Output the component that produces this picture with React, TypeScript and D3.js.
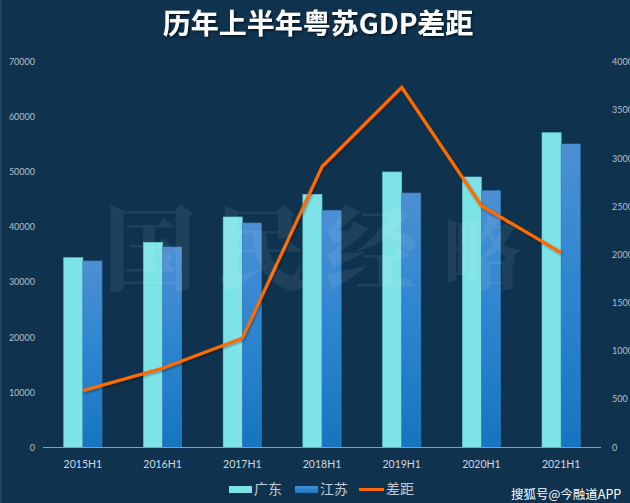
import React from "react";
import * as d3 from "d3";

const categories = ["2015H1", "2016H1", "2017H1", "2018H1", "2019H1", "2020H1", "2021H1"];
const guangdong = [34470, 37260, 41860, 45980, 50030, 49120, 57160];
const jiangsu = [33870, 36410, 40770, 43070, 46210, 46630, 55110];
const gap = [590, 822, 1133, 2913, 3737, 2509, 2021];
const leftTicks = [0, 10000, 20000, 30000, 40000, 50000, 60000, 70000];
const rightTicks = [0, 500, 1000, 1500, 2000, 2500, 3000, 3500, 4000];
const seriesNames = ["广东", "江苏", "差距"];
const watermarkChars = ["国", "民", "经", "略"];

const W = 630;
const H = 503;
const plotLeft = 43;
const plotRight = 601;
const plotTop = 62;
const plotBottom = 447.5;

const BG = "#0f334f";
const GD_COLOR = "#7ee3e6";
const LINE_COLOR = "#ff6a00";
const TICK_COLOR = "#b4bfca";
const latin = "Lato, 'Open Sans', sans-serif";
const cjk = "'Noto Sans CJK SC', 'Noto Sans', sans-serif";

export default function App() {
  const x = d3
    .scaleBand<string>()
    .domain(categories)
    .range([plotLeft, plotRight])
    .paddingInner(0.52)
    .paddingOuter(0.26);
  const inner = d3.scaleBand<string>().domain(["gd", "js"]).range([0, x.bandwidth()]);
  const yL = d3.scaleLinear().domain([0, 70000]).range([plotBottom, plotTop]);
  const yR = d3.scaleLinear().domain([0, 4000]).range([plotBottom, plotTop]);
  const cx = (c: string) => (x(c) as number) + x.bandwidth() / 2;

  const linePath = d3
    .line<number>()
    .x((_, i) => cx(categories[i]))
    .y((d) => yR(d))(gap) as string;

  const wmX = d3.scaleLinear().domain([0, 3]).range([150, 482]);

  return (
    <div style={{ position: "fixed", left: 0, top: 0, width: W, height: H }}>
      <svg width={W} height={H} style={{ display: "block" }}>
        <defs>
          <linearGradient id="jsGrad" x1="0" y1="0" x2="0" y2="1">
            <stop offset="0%" stopColor="#4e8fd3" />
            <stop offset="45%" stopColor="#2f86d0" />
            <stop offset="100%" stopColor="#1675c0" />
          </linearGradient>
          <filter id="tshadow" x="-10%" y="-30%" width="120%" height="160%">
            <feDropShadow dx="1.5" dy="1.5" stdDeviation="1" floodColor="#000" floodOpacity="0.6" />
          </filter>
          <filter id="lshadow" x="-10%" y="-10%" width="120%" height="120%">
            <feDropShadow dx="1" dy="1.5" stdDeviation="1" floodColor="#000" floodOpacity="0.35" />
          </filter>
        </defs>
        <rect x={0} y={0} width={W} height={H} fill={BG} />
        <rect x={0} y={0} width={2} height={H} fill="#1c4663" />

        {/* title */}
        <text
          x={318}
          y={34}
          textAnchor="middle"
          fill="#ffffff"
          fontFamily={cjk}
          fontWeight={700}
          fontSize={28}
          filter="url(#tshadow)"
        >
          历年上半年粤苏GDP差距
        </text>

        {/* left axis labels */}
        {leftTicks.map((t) => (
          <text
            key={"l" + t}
            x={35}
            y={yL(t)}
            dy="0.35em"
            textAnchor="end"
            fill={TICK_COLOR}
            fontFamily={latin}
            fontSize={9}
          >
            {t}
          </text>
        ))}
        {/* right axis labels */}
        {rightTicks.map((t) => (
          <text
            key={"r" + t}
            x={612}
            y={yR(t)}
            dy="0.35em"
            textAnchor="start"
            fill={TICK_COLOR}
            fontFamily={latin}
            fontSize={9}
          >
            {t}
          </text>
        ))}

        {/* bars */}
        {categories.map((c, i) => {
          const x0 = x(c) as number;
          return (
            <g key={c}>
              <rect
                x={x0 + (inner("gd") as number)}
                y={yL(guangdong[i])}
                width={inner.bandwidth()}
                height={plotBottom - yL(guangdong[i])}
                fill={GD_COLOR}
                stroke="#6cc8d0"
                strokeWidth={0.6}
              />
              <rect
                x={x0 + (inner("js") as number)}
                y={yL(jiangsu[i])}
                width={inner.bandwidth()}
                height={plotBottom - yL(jiangsu[i])}
                fill="url(#jsGrad)"
                stroke="#3b7fc0"
                strokeWidth={0.6}
              />
            </g>
          );
        })}

        {/* baseline */}
        <line x1={plotLeft} x2={plotRight} y1={plotBottom} y2={plotBottom} stroke="#8b9cad" strokeWidth={1.2} />

        {/* x labels */}
        {categories.map((c) => (
          <text
            key={"x" + c}
            x={cx(c)}
            y={468}
            textAnchor="middle"
            fill="#d0d8e0"
            fontFamily={latin}
            fontSize={10.5}
          >
            {c}
          </text>
        ))}

        {/* gap line */}
        <path d={linePath} fill="none" stroke={LINE_COLOR} strokeWidth={3.2} strokeLinejoin="miter" filter="url(#lshadow)" />

        {/* watermark */}
        {watermarkChars.map((ch, i) => (
          <text
            key={"w" + ch}
            x={wmX(i)}
            y={283}
            textAnchor="middle"
            fill="#ffffff"
            fillOpacity={0.07}
            fontFamily="'Noto Serif CJK SC', 'Noto Sans CJK SC', serif"
            fontWeight={900}
            fontSize={i === 3 ? 78 : 92}
          >
            {ch}
          </text>
        ))}

        {/* legend */}
        <rect x={229} y={486} width={23} height={7} fill={GD_COLOR} />
        <text x={254} y={494} fill="#c4ccd6" fontFamily={cjk} fontSize={14}>
          {seriesNames[0]}
        </text>
        <rect x={295} y={486} width={23} height={7} fill="url(#jsGrad)" />
        <text x={320} y={494} fill="#c4ccd6" fontFamily={cjk} fontSize={14}>
          {seriesNames[1]}
        </text>
        <line x1={359} x2={384} y1={489.5} y2={489.5} stroke={LINE_COLOR} strokeWidth={3} />
        <text x={386} y={494} fill="#c4ccd6" fontFamily={cjk} fontSize={14}>
          {seriesNames[2]}
        </text>

        {/* source watermark */}
        <text x={511} y={499} fill="#ffffff" fontFamily={cjk} fontSize={12.5}>
          搜狐号@今融道APP
        </text>
      </svg>
    </div>
  );
}
